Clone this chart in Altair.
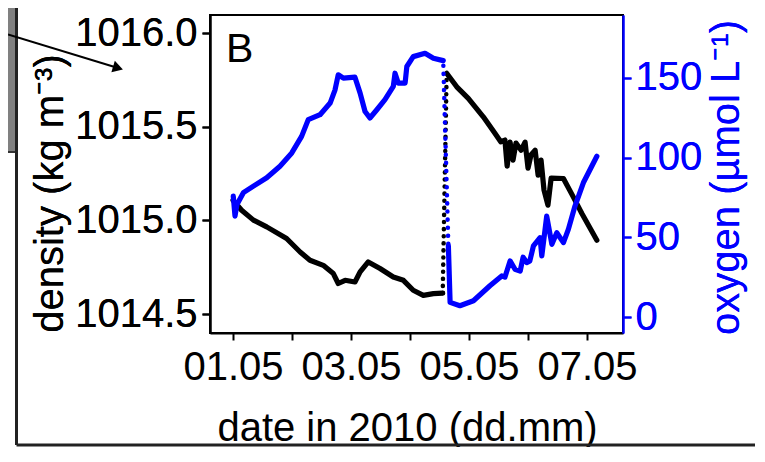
import altair as alt
import pandas as pd

# ---- data (hours after 2010-05-01 00:00) ----
density_hours = [0, 3.5, 8.3, 13.7, 21.8, 27.3, 31.3, 36.7, 40.8, 42.8, 45.6, 49.6, 51.7,
                 55.0, 59.8, 65.2, 69.3, 73.3, 77.4, 81.5, 85.3,
                 86.9, 91.0, 95.7, 101.8, 106.6, 108.9, 110.6, 111.5, 112.7, 113.9, 115.1,
                 117.2, 118.8, 120.0, 121.2, 122.9, 124.1, 125.3, 126.5, 128.1, 129.4,
                 134.4, 138.4, 141.9, 148.0]
density_values = [1015.108, 1015.055, 1015.002, 1014.966, 1014.904, 1014.832, 1014.788,
                  1014.761, 1014.717, 1014.664, 1014.681, 1014.672, 1014.726, 1014.779,
                  1014.744, 1014.699, 1014.681, 1014.628, 1014.601, 1014.610, 1014.613,
                  1015.785, 1015.713, 1015.651, 1015.553, 1015.464, 1015.420, 1015.429,
                  1015.290, 1015.418, 1015.322, 1015.413, 1015.375, 1015.418, 1015.279,
                  1015.349, 1015.375, 1015.242, 1015.322, 1015.162, 1015.082, 1015.226,
                  1015.224, 1015.126, 1015.037, 1014.895]
density_jump_at = 20

oxygen_hours = [0.1, 0.8, 1.6, 4.2, 8.3, 13.7, 19.1, 23.9, 27.9, 30.6, 35.4, 39.5, 41.5,
                42.8, 44.9, 49.6, 51.7, 53.7, 55.7, 58.5, 61.8, 65.2, 65.9, 67.2, 70.0,
                70.7, 73.3, 78.1, 81.5, 85.5,
                87.6, 88.3, 92.3, 97.8, 104.5, 109.3, 110.6, 112.7, 114.7, 116.8, 118.0,
                119.5, 120.7, 122.2, 124.9, 125.6, 127.6, 129.7, 131.7, 134.4, 136.4,
                139.1, 142.5, 148.0]
oxygen_values = [75.8, 63.3, 70.6, 78.0, 82.1, 87.3, 94.6, 102.9, 113.3, 123.8, 126.9,
                 134.2, 142.5, 151.9, 149.8, 150.4, 140.4, 128.9, 124.8, 130.0, 136.3,
                 144.6, 152.9, 146.7, 146.7, 157.1, 163.3, 165.4, 162.3, 160.8,
                 44.6, 9.2, 7.1, 10.2, 19.6, 25.8, 25.0, 35.2, 30.0, 28.8, 37.5,
                 34.2, 35.0, 44.6, 49.8, 38.3, 63.3, 45.6, 52.9, 46.7, 55.0,
                 69.6, 84.2, 100.8]
oxygen_jump_at = 29

date_tick_days = [1, 2, 3, 4, 5, 6, 7]
density_ticks = [1014.5, 1015.0, 1015.5, 1016.0]
oxygen_ticks = [0, 50, 100, 150]

FONT = "Liberation Sans"
FS = 40
BLUE = "#0000FF"
LW = 5.2


def segments(hours, values, jump):
    t0 = pd.Timestamp("2010-05-01")
    parts = [("a", "solid", range(0, jump + 1)),
             ("b", "dotted", range(jump, jump + 2)),
             ("c", "solid", range(jump + 1, len(values)))]
    rows = []
    for seg, style, idx in parts:
        for i in idx:
            t = t0 + pd.Timedelta(hours=hours[i])
            rows.append({"time": t.strftime("%Y-%m-%dT%H:%M:%S"),
                         "value": values[i], "seg": seg, "style": style})
    return pd.DataFrame(rows)


dens_df = segments(density_hours, density_values, density_jump_at)
oxy_df = segments(oxygen_hours, oxygen_values, oxygen_jump_at)

x_enc = alt.X(
    "time:T",
    scale=alt.Scale(domain=[alt.DateTime(year=2010, month=4, date=30, hours=14, minutes=38),
                            alt.DateTime(year=2010, month=5, date=7, hours=14, minutes=38)]),
    axis=alt.Axis(
        values=[alt.DateTime(year=2010, month=5, date=d) for d in date_tick_days],
        labelExpr="date(datum.value) % 2 == 1 ? timeFormat(datum.value, '%d.%m') : ''",
        labelFontSize=FS, labelColor="black", labelPadding=7, labelFlush=False,
        labelOverlap=False, tickSize=7, tickWidth=2, tickColor="black",
        domainColor="black", domainWidth=2, grid=False,
        title="date in 2010 (dd.mm)", titleFontSize=FS, titleFontWeight="normal",
        titleColor="black", titleX=197, titleY=107, titleBaseline="alphabetic",
        titleAlign="center"),
)

y_dens = alt.Y("value:Q",
               scale=alt.Scale(domain=[1014.4, 1016.096], nice=False, zero=False),
               axis=alt.Axis(orient="left", values=density_ticks, format=".1f",
                             labelFontSize=FS, labelColor="black", labelPadding=5,
                             tickSize=8, tickWidth=2, tickColor="black",
                             domainColor="black", domainWidth=2, grid=False,
                             title="density (kg m⁻³)", titleFontSize=FS,
                             titleFontWeight="normal", titleColor="black",
                             titleAngle=270, titleX=-148, titleY=178,
                             titleBaseline="alphabetic", titleAlign="center"))

y_oxy = alt.Y("value:Q",
              scale=alt.Scale(domain=[-10, 189.4], nice=False, zero=False),
              axis=alt.Axis(orient="right", values=oxygen_ticks, format="d",
                            labelFontSize=FS, labelColor=BLUE, labelPadding=4,
                            tickSize=8, tickWidth=2, tickColor=BLUE,
                            domainColor=BLUE, domainWidth=2, grid=False,
                            title="oxygen (µmol L⁻¹)", titleFontSize=FS,
                            titleFontWeight="normal", titleColor=BLUE,
                            titleAngle=270, titleX=115, titleY=162,
                            titleBaseline="alphabetic", titleAlign="center"))

black_solid = alt.Chart(dens_df).transform_filter(
    alt.datum.style == "solid"
).mark_line(
    color="black", strokeWidth=LW, strokeCap="round", strokeJoin="round"
).encode(x=x_enc, y=y_dens, detail="seg:N")

black_dots = alt.Chart(dens_df).transform_filter(
    alt.datum.style == "dotted"
).mark_line(
    color="black", strokeWidth=4.5, strokeCap="round", strokeDash=[0.1, 7]
).encode(x=x_enc, y=y_dens)

blue_solid = alt.Chart(oxy_df).transform_filter(
    alt.datum.style == "solid"
).mark_line(
    color=BLUE, strokeWidth=LW, strokeCap="round", strokeJoin="round"
).encode(x=x_enc, y=y_oxy, detail="seg:N")

blue_dots = alt.Chart(oxy_df).transform_filter(
    alt.datum.style == "dotted"
).mark_line(
    color=BLUE, strokeWidth=4.5, strokeCap="round", strokeDash=[0.1, 8],
    strokeDashOffset=3
).encode(x=x_enc, y=y_oxy)

one = alt.Data(values=[{}])

panel_label = alt.Chart(one).mark_text(
    text="B", fontSize=41, font=FONT, align="left", baseline="alphabetic", color="black"
).encode(x=alt.value(16), y=alt.value(47))

# decoration from the neighbouring (cropped) panel
gray_box = alt.Chart(one).mark_rect(color="#808080").encode(
    x=alt.value(-202), x2=alt.value(-194), y=alt.value(-7), y2=alt.value(137))
gray_edge = alt.Chart(one).mark_rule(color="#333333", strokeWidth=2).encode(
    x=alt.value(-202), x2=alt.value(-194), y=alt.value(137))
frame_left = alt.Chart(one).mark_rule(color="#222222", strokeWidth=3).encode(
    x=alt.value(-193.5), y=alt.value(-7), y2=alt.value(430))
frame_bottom = alt.Chart(one).mark_rule(color="#222222", strokeWidth=3).encode(
    x=alt.value(-193.5), x2=alt.value(545), y=alt.value(430))
arrow_line = alt.Chart(one).mark_rule(color="black", strokeWidth=2).encode(
    x=alt.value(-202), x2=alt.value(-92), y=alt.value(19.5), y2=alt.value(53))
arrow_head = alt.Chart(one).mark_point(
    shape="triangle-right", filled=True, color="black", size=140, angle=17, opacity=1
).encode(x=alt.value(-92), y=alt.value(53))

chart = alt.layer(
    black_solid, blue_solid, black_dots, blue_dots, panel_label,
    gray_box, gray_edge, frame_left, frame_bottom, arrow_line, arrow_head
).resolve_scale(
    y="independent"
).properties(
    width=413, height=318,
    padding={"left": 202, "top": 7, "right": 134, "bottom": 114},
    autosize=alt.AutoSizeParams(type="none"),
).configure(
    font=FONT
).configure_view(
    stroke="black", strokeWidth=2
)

chart.save("out.html", embed_options={"renderer": "svg", "actions": False})
